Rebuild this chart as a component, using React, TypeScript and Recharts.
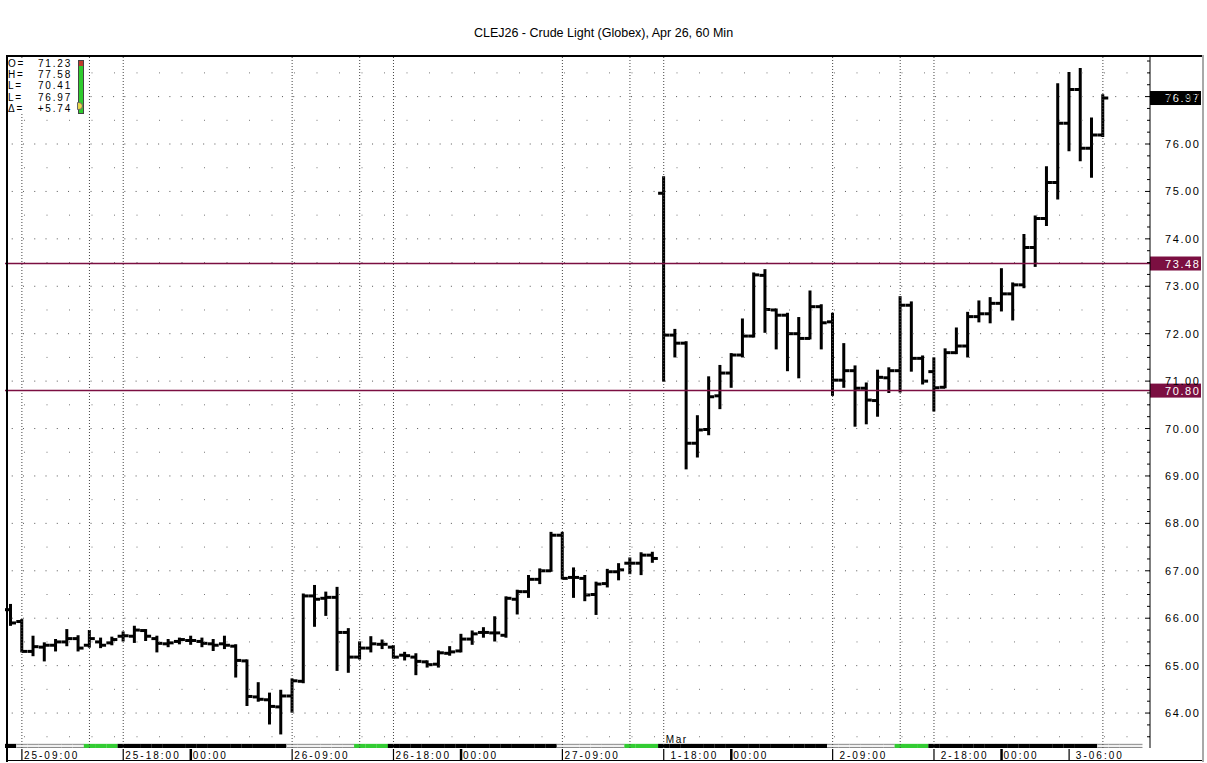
import React from "react";
import { Bar, ComposedChart, ReferenceLine, XAxis, YAxis } from "recharts";

// hourly OHLC, Feb 25 08:00 .. Mar 3 09:00
const opens = [
  66.18, 65.93, 65.3, 65.39, 65.43, 65.5, 65.57, 65.43, 65.5, 65.48,
  65.62, 65.62, 65.74, 65.57, 65.46, 65.51, 65.53, 65.51, 65.46, 65.46,
  65.41, 65.1, 64.34, 64.28, 64.13, 64.36, 64.67, 66.47, 66.42, 66.44,
  65.7, 65.18, 65.37, 65.45, 65.39, 65.22, 65.18, 65.08, 65.03, 65.26,
  65.31, 65.56, 65.7, 65.69, 65.64, 66.4, 66.56, 66.82, 67.0, 67.75,
  66.86, 66.84, 66.5, 66.73, 66.98, 67.16, 67.16, 67.33, 74.96, 71.97,
  71.8, 69.69, 69.98, 70.69, 71.17, 71.55, 71.95, 73.23, 72.5, 72.39,
  72.0, 71.9, 72.57, 72.25, 71.02, 71.22, 70.85, 70.59, 71.07, 71.22,
  72.6, 71.48, 71.2, 70.87, 71.6, 71.74, 72.36, 72.42, 72.64, 72.84,
  73.03, 73.82, 74.43, 75.19, 76.44, 77.15, 75.91, 76.19,
];
const highs = [
  66.28, 65.96, 65.61, 65.47, 65.54, 65.75, 65.62, 65.73, 65.57, 65.59,
  65.7, 65.82, 65.75, 65.61, 65.54, 65.57, 65.61, 65.57, 65.54, 65.61,
  65.43, 65.11, 64.63, 64.41, 64.47, 64.71, 66.5, 66.68, 66.54, 66.64,
  65.77, 65.49, 65.6, 65.53, 65.41, 65.27, 65.24, 65.09, 65.3, 65.39,
  65.65, 65.72, 65.79, 66.02, 66.44, 66.58, 66.89, 67.03, 67.8, 67.8,
  67.05, 66.89, 66.75, 67.02, 67.14, 67.26, 67.37, 67.38, 75.3, 72.08,
  71.82, 70.26, 71.08, 71.32, 71.57, 72.3, 73.27, 73.34, 72.51, 72.42,
  72.33, 72.89, 72.6, 72.42, 71.78, 71.31, 70.95, 71.22, 71.27, 72.77,
  72.66, 71.52, 71.48, 71.67, 72.11, 72.44, 72.68, 72.75, 73.36, 73.06,
  74.08, 74.47, 75.51, 77.26, 77.5, 77.58, 76.54, 77.03,
];
const lows = [
  65.86, 65.3, 65.22, 65.11, 65.32, 65.43, 65.32, 65.4, 65.39, 65.45,
  65.53, 65.5, 65.54, 65.3, 65.41, 65.47, 65.46, 65.41, 65.33, 65.37,
  64.77, 64.17, 64.26, 63.78, 63.57, 64.03, 64.65, 65.84, 66.07, 64.91,
  64.87, 65.15, 65.3, 65.37, 65.17, 65.13, 64.82, 64.98, 64.98, 65.23,
  65.3, 65.46, 65.61, 65.53, 65.61, 66.1, 66.45, 66.74, 67.0, 66.84,
  66.45, 66.38, 66.09, 66.67, 66.82, 66.95, 66.93, 67.19, 71.01, 71.52,
  69.16, 69.41, 69.88, 70.43, 70.88, 71.52, 71.94, 72.04, 71.69, 71.23,
  71.08, 71.9, 71.69, 70.71, 70.88, 70.06, 70.11, 70.27, 70.77, 70.78,
  71.22, 70.95, 70.38, 70.87, 71.59, 71.52, 72.26, 72.24, 72.49, 72.3,
  72.98, 73.43, 74.29, 74.85, 75.87, 75.66, 75.31, 76.17,
];
const closes = [
  65.9, 65.3, 65.4, 65.43, 65.5, 65.57, 65.37, 65.57, 65.43, 65.55,
  65.63, 65.75, 65.62, 65.47, 65.48, 65.55, 65.53, 65.47, 65.43, 65.43,
  65.11, 64.35, 64.29, 64.14, 64.36, 64.68, 66.47, 66.4, 66.44, 65.7,
  65.18, 65.37, 65.46, 65.45, 65.18, 65.21, 65.09, 65.02, 65.27, 65.29,
  65.56, 65.67, 65.7, 65.69, 66.42, 66.56, 66.82, 67.0, 67.75, 66.84,
  66.86, 66.49, 66.72, 66.98, 67.02, 67.16, 67.33, 67.26, 71.97, 71.8,
  69.69, 69.97, 70.67, 71.17, 71.55, 71.95, 73.24, 72.51, 72.39, 72.0,
  71.9, 72.57, 72.23, 71.02, 71.22, 70.85, 70.6, 71.08, 71.22, 72.6,
  71.48, 71.0, 70.86, 71.6, 71.74, 72.36, 72.42, 72.64, 72.84, 73.03,
  73.82, 74.43, 75.19, 76.44, 77.15, 75.91, 76.19, 76.97,
];

// session strip under the bars: b = overnight, l = day, g = settlement hours
const sessions =
  "bllllllgggbbbbbbbbbbbbbbbllllllgggbbbbbbbbbbbbbbbllllllgggbbbbbbbbbbbbbbbllllllgggbbbbbbbbbbbbbbbllll";

const tickIdx = [1, 10, 16, 25, 34, 40, 49, 58, 64, 73, 82, 88, 94];
const tickText = [
  "25-09:00", "25-18:00", "00:00", "26-09:00", "26-18:00", "00:00", "27-09:00",
  " 1-18:00", "00:00", " 2-09:00", " 2-18:00", "00:00", " 3-06:00",
];
const monthIdx = 58;
const monthText = "Mar";
const gridIdx = [1, 7, 10, 25, 31, 34, 49, 55, 58, 73, 79, 82, 97];

const priceLabels = [64, 65, 66, 67, 68, 69, 70, 71, 72, 73, 74, 75, 76, 77];
const levels = [73.48, 70.8];
const lastPrice = 76.97;

const legendRows = [
  ["O=", "71.23"],
  ["H=", "77.58"],
  ["L=", "70.41"],
  ["L=", "76.97"],
  ["\u0394=", "+5.74"],
];
const title = "CLEJ26 - Crude Light (Globex), Apr 26, 60 Min";

const FONT = '"Liberation Sans", Arial, Helvetica, sans-serif';
const MAROON = "#7b0f41";

const rows = sessions.split("").map((s, i) => ({
  i,
  session: s,
  o: opens[i],
  h: highs[i],
  l: lows[i],
  c: closes[i],
  range: opens[i] == null ? null : [lows[i], highs[i]],
  band: [0, 0.6],
}));

const minorTicks = priceLabels.flatMap((v) => [v - 0.5, v - 0.25, v, v + 0.25]).concat([77.5, 77.75]);
const halfLines = priceLabels.map((v) => v - 0.5).concat([77.5]);

function OhlcShape(props: any) {
  const { x, y, width, height, payload } = props;
  if (!payload || payload.o == null || height == null) return <g />;
  const top = height >= 0 ? y : y + height;
  const span = Math.abs(height);
  const k = span / (payload.h - payload.l || 1);
  const cx = x + width / 2;
  const yo = top + (payload.h - payload.o) * k;
  const yc = top + (payload.h - payload.c) * k;
  return (
    <g>
      <line x1={cx} x2={cx} y1={top - 1} y2={top + span + 1} stroke="#000" strokeWidth={3} />
      <line x1={cx - 5.5} x2={cx} y1={yo} y2={yo} stroke="#000" strokeWidth={3} />
      <line x1={cx} x2={cx + 5.5} y1={yc} y2={yc} stroke="#000" strokeWidth={3} />
    </g>
  );
}

function BandShape(props: any) {
  const { x, y, width, height, payload } = props;
  if (!payload) return <g />;
  const top = height >= 0 ? y : y + height;
  const h = Math.abs(height);
  if (payload.session === "l") {
    return (
      <g>
        <rect x={x} y={top} width={width + 0.4} height={h} fill="#f0f0f0" />
        <line x1={x} x2={x + width + 0.4} y1={top + 0.5} y2={top + 0.5} stroke="#8c8c8c" />
        <line x1={x} x2={x + width + 0.4} y1={top + h - 0.5} y2={top + h - 0.5} stroke="#8c8c8c" />
      </g>
    );
  }
  return (
    <rect x={x} y={top} width={width + 0.4} height={h} fill={payload.session === "g" ? "#33cc33" : "#000"} />
  );
}

function TimeTick(props: any) {
  const { x, y, payload } = props;
  const k = tickIdx.indexOf(payload.value);
  return (
    <g>
      {payload.value === monthIdx && (
        <text x={x + 2} y={y - 5} fontSize={10} fontFamily={FONT} letterSpacing={1.6} fill="#000">
          {monthText}
        </text>
      )}
      {k >= 0 && (
        <g>
          <line
            x1={x}
            x2={x}
            y1={y + 1}
            y2={y + 12}
            stroke="#000"
            strokeWidth={tickText[k] === "00:00" ? 2.5 : 1.2}
          />
          <text
            x={x + 2}
            y={y + 10.5}
            fontSize={10}
            fontFamily={FONT}
            letterSpacing={2}
            fill="#000"
            xmlSpace="preserve"
            style={{ whiteSpace: "pre" }}
          >
            {tickText[k]}
          </text>
        </g>
      )}
    </g>
  );
}

function PriceTick(props: any) {
  const { x, y, payload } = props;
  const v = payload.value;
  const major = Math.abs(v - Math.round(v)) < 1e-6;
  return (
    <g>
      <line x1={x - (major ? 5 : 3)} x2={x} y1={y} y2={y} stroke="#000" strokeWidth={1} />
      {major && priceLabels.includes(Math.round(v)) && (
        <text x={x + 15} y={y + 4} fontSize={11} fontFamily={FONT} letterSpacing={1.6} fill="#000">
          {v.toFixed(2)}
        </text>
      )}
    </g>
  );
}

function PriceBadge(props: any) {
  const { viewBox, value, fill } = props;
  if (!viewBox) return null;
  const bx = viewBox.x + viewBox.width;
  const by = viewBox.y;
  return (
    <g>
      <rect x={bx} y={by - 7} width={51} height={14} fill={fill} />
      <text x={bx + 15} y={by + 4} fontSize={11} fontFamily={FONT} letterSpacing={1.6} fill="#fff">
        {value.toFixed(2)}
      </text>
    </g>
  );
}

export default function App() {
  return (
    <div
      style={{
        position: "absolute",
        left: 0,
        top: 0,
        width: 1207,
        height: 763,
        background: "#fff",
        fontFamily: FONT,
        overflow: "hidden",
      }}
    >
      <div
        style={{
          position: "absolute",
          top: 26,
          left: 0,
          width: 1207,
          textAlign: "center",
          fontSize: 12.5,
          color: "#000",
        }}
      >
        {title}
      </div>

      <div style={{ position: "absolute", left: 0, top: 0 }}>
        <ComposedChart
          width={1207}
          height={763}
          data={rows}
          margin={{ top: 57, right: 0, bottom: 0, left: 5 }}
          barCategoryGap={0}
          barGap={0}
        >
          <XAxis
            dataKey="i"
            type="category"
            height={15}
            interval={0}
            tickLine={false}
            axisLine={false}
            tickSize={0}
            tickMargin={0}
            padding={{ left: 0, right: 7.7 }}
            tick={<TimeTick />}
          />
          <XAxis dataKey="i" xAxisId="band" type="category" hide padding={{ left: 0, right: 7.7 }} />
          <YAxis
            orientation="right"
            width={57}
            type="number"
            domain={[63.263, 77.835]}
            allowDataOverflow
            ticks={minorTicks}
            interval={0}
            tickLine={false}
            tickSize={0}
            tickMargin={0}
            axisLine={{ stroke: "#000", strokeWidth: 1 }}
            tick={<PriceTick />}
          />
          <YAxis yAxisId="band" hide domain={[0, 100]} type="number" />

          {priceLabels.map((v) => (
            <ReferenceLine key={"g" + v} y={v} stroke="#555" strokeDasharray="1 10.26" />
          ))}
          {halfLines.map((v) => (
            <ReferenceLine key={"h" + v} y={v} stroke="#777" strokeDasharray="1 21.5" />
          ))}
          {gridIdx.map((i) => (
            <ReferenceLine key={"v" + i} x={i} stroke="#444" strokeDasharray="1 2" />
          ))}

          <Bar
            dataKey="band"
            xAxisId="band"
            yAxisId="band"
            shape={<BandShape />}
            isAnimationActive={false}
          />
          <Bar dataKey="range" shape={<OhlcShape />} isAnimationActive={false} />

          {levels.map((v) => (
            <ReferenceLine
              key={"lv" + v}
              y={v}
              stroke={MAROON}
              strokeWidth={1.5}
              label={<PriceBadge value={v} fill={MAROON} />}
            />
          ))}
          <ReferenceLine
            y={lastPrice}
            stroke="none"
            strokeOpacity={0}
            label={<PriceBadge value={lastPrice} fill="#000" />}
          />
        </ComposedChart>
      </div>

      {/* frame */}
      <div style={{ position: "absolute", left: 6, top: 55, width: 1197, height: 2, background: "#000" }} />
      <div style={{ position: "absolute", left: 6, top: 55, width: 1.5, height: 707, background: "#000" }} />
      <div style={{ position: "absolute", left: 6, top: 760, width: 1197, height: 1.2, background: "#000" }} />
      <div style={{ position: "absolute", left: 1202, top: 55, width: 1.6, height: 707, background: "#a8a8a8" }} />

      {/* top-left data box */}
      <div
        style={{
          position: "absolute",
          left: 8,
          top: 58,
          width: 76,
          height: 56,
          background: "#fff",
        }}
      >
        {legendRows.map((r, k) => (
          <div
            key={k}
            style={{
              position: "absolute",
              left: 0,
              top: k * 11.2,
              width: 64,
              height: 11,
              fontSize: 10,
              lineHeight: "11px",
              letterSpacing: 1.8,
            }}
          >
            <span style={{ position: "absolute", left: 0 }}>{r[0]}</span>
            <span style={{ position: "absolute", right: 0 }}>{r[1]}</span>
          </div>
        ))}
        <div
          style={{
            position: "absolute",
            left: 70,
            top: 2,
            width: 4,
            height: 52,
            background: "#2ecc2e",
            border: "1px solid #444",
          }}
        />
        <div
          style={{
            position: "absolute",
            left: 71,
            top: 3,
            width: 4,
            height: 5,
            background: "#c0392b",
          }}
        />
        <div
          style={{
            position: "absolute",
            left: 69,
            top: 44,
            width: 4,
            height: 6,
            borderRadius: "0 4px 4px 0",
            background: "#e8d84a",
            border: "1px solid #666",
          }}
        />
      </div>
    </div>
  );
}
